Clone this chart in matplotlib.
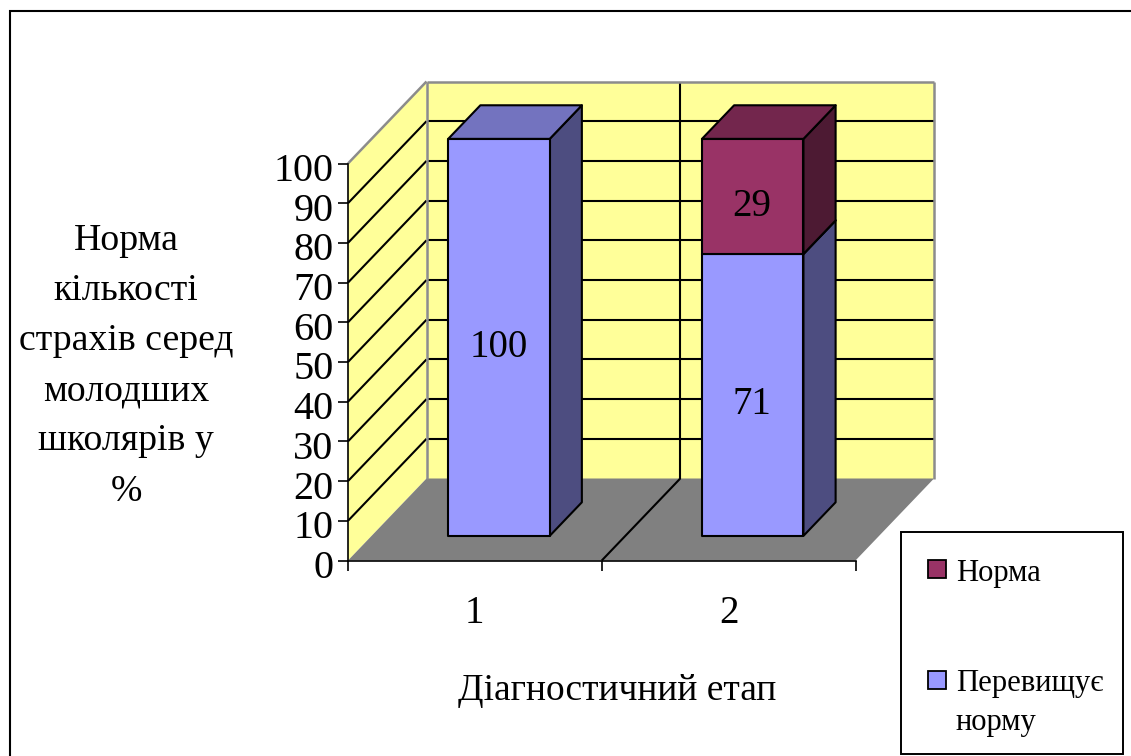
import matplotlib
matplotlib.use("Agg")
import matplotlib.pyplot as plt
from matplotlib.patches import Polygon, Rectangle
from matplotlib.transforms import ScaledTranslation

# Chart values
stages = ["1", "2"]
exceeds_norm = [100, 71]
within_norm = [0, 29]
series_names = ["Норма", "Перевищує\nнорму"]
y_ticks = list(range(0, 101, 10))
y_title = "Норма\nкількості\nстрахів серед\nмолодших\nшколярів у\n%"
x_title = "Діагностичний етап"

# Fill colours in Excel's classic 3-D palette
WALL = "#FFFF99"
FLOOR = "#808080"
BLUE = ("#9999FF", "#7373BF", "#4D4D80")
PLUM = ("#993366", "#73264D", "#4D1A33")

W, H = 1131, 756
plt.rcParams["font.family"] = ["Liberation Serif", "DejaVu Serif"]
fig = plt.figure(figsize=(W / 100, H / 100), dpi=100, facecolor="white")


def fig_xy(px, py):
    return px / W, 1 - py / H


# The axes rectangle is the front plane of the 3-D box
left, right, base, top = 348, 855.5, 560.5, 163.5
ax = fig.add_axes([left / W, 1 - base / H, (right - left) / W, (base - top) / H])
ax.set_xlim(0, 2)
ax.set_ylim(0, 100)
ax.patch.set_visible(False)
for side in ("top", "right"):
    ax.spines[side].set_visible(False)
for side in ("left", "bottom"):
    ax.spines[side].set_linewidth(1.2)
    ax.spines[side].set_zorder(6)

# Oblique projection: depth 1 shifts a point to the back wall of the box
DX = 78.5 / ((right - left) / 2)
DY = 82 / ((base - top) / 100)


def proj(x, y, d):
    return (x + d * DX, y + d * DY)


def face(points, color, z, edge="none", lw=0.0):
    ax.add_patch(Polygon(points, closed=True, facecolor=color, edgecolor=edge,
                         linewidth=lw, zorder=z, clip_on=False, joinstyle="round"))


def seg(a, b, color="black", lw=1.5, z=2):
    ax.plot([a[0], b[0]], [a[1], b[1]], color=color, lw=lw, zorder=z,
            clip_on=False, solid_capstyle="butt")


# Walls and floor
face([proj(0, 0, 0), proj(0, 100, 0), proj(0, 100, 1), proj(0, 0, 1)], WALL, 1)
face([proj(0, 0, 1), proj(0, 100, 1), proj(2, 100, 1), proj(2, 0, 1)], WALL, 1)
face([proj(0, 0, 0), proj(2, 0, 0), proj(2, 0, 1), proj(0, 0, 1)], FLOOR, 1.5)

# Gridlines and category divider
for v in y_ticks[1:-1]:
    seg(proj(0, v, 0), proj(0, v, 1))
    seg(proj(0, v, 1), proj(2, v, 1))
seg(proj(1, 0, 1), proj(1, 100, 1))
seg(proj(1, 0, 0), proj(1, 0, 1))

# Grey outline of the box
GREY = "#8C8C8C"
seg(proj(0, 100, 0), proj(0, 100, 1), GREY, 1.8, 3)
seg(proj(0, 100, 1), proj(2, 100, 1), GREY, 1.8, 3)
seg(proj(0, 0, 1), proj(0, 100, 1), GREY, 1.8, 3)
seg(proj(2, 0, 1), proj(2, 100, 1), GREY, 1.8, 3)

# Stacked 3-D columns
BAR_W, D0, D1 = 0.40, 0.30, 0.71


def column(center, y0, y1, shades, z):
    x0, x1 = center - BAR_W / 2 + 0.002, center + BAR_W / 2 + 0.002
    front, upper, side_c = shades
    kw = dict(edge="black", lw=1.5)
    face([proj(x1, y0, D0), proj(x1, y1, D0), proj(x1, y1, D1), proj(x1, y0, D1)], side_c, z, **kw)
    face([proj(x0, y1, D0), proj(x1, y1, D0), proj(x1, y1, D1), proj(x0, y1, D1)], upper, z, **kw)
    face([proj(x0, y0, D0), proj(x1, y0, D0), proj(x1, y1, D0), proj(x0, y1, D0)], front, z + 0.1, **kw)


def value_label(center, mid, value):
    ax.annotate(str(value), proj(center, mid, D0), xytext=(0, -7), textcoords="offset points",
                ha="center", va="center", fontsize=28, zorder=5, annotation_clip=False)


for i, (low, high) in enumerate(zip(exceeds_norm, within_norm)):
    c = i + 0.5
    column(c, 0, low, BLUE, 4)
    value_label(c, low / 2, low)
    if high:
        column(c, low, low + high, PLUM, 4.5)
        value_label(c, low + high / 2, high)

# Axes ticks and labels
ax.set_yticks(y_ticks)
ax.tick_params(axis="y", length=7.5, width=1.2, labelsize=29, pad=3)
label_shift = ScaledTranslation(0, -2.5 / 72, fig.dpi_scale_trans)
for lab in ax.get_yticklabels():
    lab.set_transform(lab.get_transform() + label_shift)
ax.set_xticks([0, 1, 2])
ax.set_xticklabels([])
ax.tick_params(axis="x", length=7.5, width=1.2)
ax.set_xticks([i + 0.5 for i in range(len(stages))], minor=True)
ax.set_xticklabels(stages, minor=True, fontsize=28)
ax.tick_params(axis="x", which="minor", length=0, pad=25)

fig.text(*fig_xy(617, 691), x_title, ha="center", va="center", fontsize=27)
fig.text(*fig_xy(126, 366), y_title, ha="center", va="center", fontsize=27.2,
         linespacing=1.59)

# Legend box
px_w, px_h = 1 / W, 1 / H
fig.add_artist(Rectangle(fig_xy(901, 754), 222 * px_w, 222 * px_h, transform=fig.transFigure,
                         facecolor="white", edgecolor="black", linewidth=1.4))
for name, color, y_swatch, y_text in zip(series_names, (PLUM[0], BLUE[0]), (578, 689), (573, 703)):
    fig.add_artist(Rectangle(fig_xy(928, y_swatch), 18 * px_w, 18 * px_h, transform=fig.transFigure,
                             facecolor=color, edgecolor="black", linewidth=1.3))
    fig.text(*fig_xy(956, y_text), name, ha="left", va="center", fontsize=22.1, linespacing=1.46)

# Outer frame of the chart area
fig.add_artist(Rectangle(fig_xy(10, 770), 1300 * px_w, 759 * px_h, transform=fig.transFigure,
                         facecolor="none", edgecolor="black", linewidth=1.5, zorder=10))

fig.savefig("out.png", dpi=100)
